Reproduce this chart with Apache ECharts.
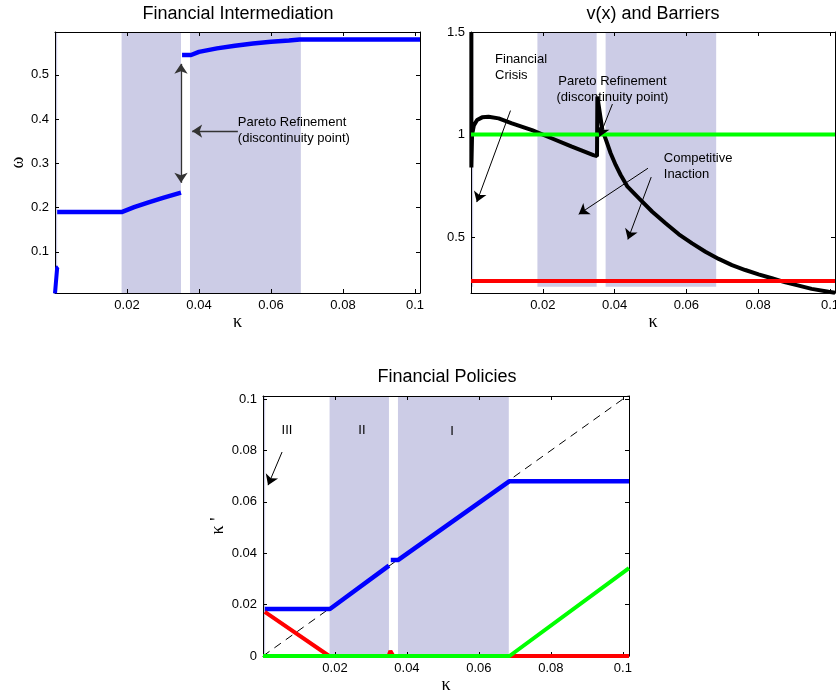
<!DOCTYPE html>
<html><head><meta charset="utf-8">
<script src="https://cdn.jsdelivr.net/npm/echarts@6/dist/echarts.min.js"></script>
<style>html,body{margin:0;padding:0;background:#fff}#c{width:836px;height:698px}</style>
</head><body><div id="c"></div>
<script>
// ---------- tick labels ----------
const kappaTicks = [0.02, 0.04, 0.06, 0.08, 0.1];
const kappaTickLabels = ['0.02', '0.04', '0.06', '0.08', '0.1'];
const omegaTicks = [0.1, 0.2, 0.3, 0.4, 0.5];
const omegaTickLabels = ['0.1', '0.2', '0.3', '0.4', '0.5'];
const vTicks = [0.5, 1, 1.5];
const vTickLabels = ['0.5', '1', '1.5'];
const kpTicks = [0, 0.02, 0.04, 0.06, 0.08, 0.1];
const kpTickLabels = ['0', '0.02', '0.04', '0.06', '0.08', '0.1'];

// ---------- regions (III, II, I) ----------
const regionNames = ['III', 'II', 'I'];
const regionStart = [0, 0.0185, 0.0375];
const regionEnd = [0.0006, 0.035, 0.0683];

// ---------- Financial Intermediation (omega) ----------
const crisisK = [0.0000, 0.0006, 0.0009];
const crisisOmega = [0.006, 0.064, 0.066];
const lowK = [0.0006, 0.0185, 0.022, 0.026, 0.030, 0.035];
const lowOmega = [0.19, 0.19, 0.201, 0.212, 0.222, 0.234];
const highK = [0.0353, 0.0378, 0.040, 0.045, 0.050, 0.055, 0.060, 0.065, 0.068, 0.1014];
const highOmega = [0.545, 0.545, 0.552, 0.560, 0.566, 0.571, 0.575, 0.578, 0.580, 0.580];

// ---------- v(x) and Barriers ----------
const vK = [0.0001, 0.0001, 0.0003, 0.0008, 0.0017, 0.0031, 0.0049, 0.0077, 0.0114, 0.017, 0.0226, 0.0281, 0.0341, 0.0351,
            0.0352, 0.0366, 0.0376, 0.0389, 0.0403, 0.0417, 0.0436, 0.0468, 0.0505, 0.0542, 0.0579, 0.0616, 0.0653,
            0.069, 0.0727, 0.0764, 0.0801, 0.0838, 0.0876, 0.0913, 0.0949, 0.0996, 0.1014];
const vVal = [1.5, 0.84, 1.0, 1.045, 1.071, 1.084, 1.087, 1.079, 1.055, 1.022, 0.981, 0.941, 0.9, 0.895,
              1.185, 1.022, 0.974, 0.909, 0.852, 0.803, 0.746, 0.689, 0.624, 0.568, 0.514, 0.470, 0.429,
              0.394, 0.364, 0.340, 0.319, 0.300, 0.280, 0.264, 0.248, 0.234, 0.229];
const barrierK = [0, 0.1014];
const upperBarrier = [1.0, 1.0];
const lowerBarrier = [0.287, 0.287];

// ---------- Financial Policies ----------
const bluePolK1 = [0.0005, 0.0186, 0.035];
const bluePol1 = [0.0183, 0.0183, 0.0352];
const bluePolK2 = [0.0355, 0.0376, 0.0684, 0.1017];
const bluePol2 = [0.0374, 0.0374, 0.068, 0.068];
const redPolK = [0.0005, 0.0184, 0.0349, 0.0354, 0.0362, 0.1017];
const redPol = [0.0172, 0, 0, 0.002, 0, 0];
const greenPolK = [0, 0.0685, 0.1017];
const greenPol = [0, 0, 0.0342];
const diagK = [0, 0.1017];
const diagVal = [0, 0.1017];

// ---------- layout ----------
const SANS = '"Liberation Sans", Arial, sans-serif';
const SERIF = '"Liberation Serif", "Times New Roman", serif';
const zip = (xs, ys) => xs.map((x, i) => [x, ys[i]]);
const grids = [
  {left: 55, top: 32, width: 365, height: 261},
  {left: 471, top: 32, width: 364, height: 261},
  {left: 263, top: 396, width: 366, height: 260}
];
const xRange = [[0, 0.1014], [0, 0.1014], [0, 0.1017]];
const yRange = [[0.007, 0.597], [0.228, 1.5], [0, 0.1012]];
const yTickSets = [[omegaTicks, omegaTickLabels], [vTicks, vTickLabels], [kpTicks, kpTickLabels]];
const yNames = ['ω', '', 'κ \''];
const yNameGaps = [28, 0, 36];
const shadeY = [[0.007, 0.597], [0.258, 1.5], [0, 0.1012]];

function lookup(ticks, labels) {
  return v => {
    let best = 0;
    ticks.forEach((t, i) => { if (Math.abs(t - v) < Math.abs(ticks[best] - v)) best = i; });
    return labels[best];
  };
}

const xAxis = [], yAxis = [];
grids.forEach((g, i) => {
  [true, false].forEach(bottom => {
    xAxis.push({
      type: 'value', gridIndex: i, position: bottom ? 'bottom' : 'top', z: 3,
      min: xRange[i][0], max: xRange[i][1],
      name: bottom ? 'κ' : '', nameLocation: 'middle', nameGap: 20,
      nameTextStyle: {fontFamily: SERIF, fontSize: 18, color: '#000'},
      axisLine: {show: true, onZero: false, lineStyle: {color: '#000', width: 1}},
      axisTick: {show: true, inside: true, length: 4, customValues: kappaTicks, lineStyle: {color: '#000'}},
      axisLabel: {show: bottom, customValues: kappaTicks, formatter: lookup(kappaTicks, kappaTickLabels),
        fontFamily: SANS, fontSize: 13, color: '#000', margin: 6},
      splitLine: {show: false}
    });
  });
  [true, false].forEach(left => {
    const [tk, tl] = yTickSets[i];
    yAxis.push({
      type: 'value', gridIndex: i, position: left ? 'left' : 'right', z: 3,
      min: yRange[i][0], max: yRange[i][1],
      name: left ? yNames[i] : '', nameLocation: 'middle', nameGap: yNameGaps[i], nameRotate: 90,
      nameTextStyle: {fontFamily: SERIF, fontSize: 18, color: '#000'},
      axisLine: {show: true, onZero: false, lineStyle: {color: '#000', width: 1}},
      axisTick: {show: true, inside: true, length: 4, customValues: tk, lineStyle: {color: '#000'}},
      axisLabel: {show: left, customValues: tk, formatter: lookup(tk, tl),
        fontFamily: SANS, fontSize: 13, color: '#000', margin: 6},
      splitLine: {show: false}
    });
  });
});

function shadeSeries(i) {
  return {
    type: 'line', xAxisIndex: 2 * i, yAxisIndex: 2 * i, data: [], silent: true, z: 1,
    markArea: {
      silent: true, itemStyle: {color: '#CCCCE6', opacity: 1},
      label: {show: false},
      data: regionStart.map((s, r) => [{coord: [s, shadeY[i][0]]}, {coord: [regionEnd[r], shadeY[i][1]]}])
    }
  };
}
function lineSeries(i, data, color, width, extra) {
  return Object.assign({
    type: 'line', xAxisIndex: 2 * i, yAxisIndex: 2 * i, data: data, showSymbol: false, symbol: 'none',
    silent: true, z: 4, lineStyle: {color: color, width: width}, clip: true
  }, extra || {});
}

// ---------- annotation arrows [x1,y1,x2,y2,doubleHead] ----------
const arrows0 = [[0.035, 0.256, 0.035, 0.525, true], [0.0508, 0.373, 0.0381, 0.373, false]];
const arrows1 = [[0.011, 1.117, 0.0016, 0.671, false], [0.0394, 1.149, 0.0358, 0.99, false],
                 [0.0493, 0.836, 0.030, 0.612, false], [0.0502, 0.793, 0.0437, 0.489, false]];
const arrows2 = [[0.0053, 0.0794, 0.0014, 0.0665, false]];
function arrowSeries(i, arrows, color, width) {
  return {
    type: 'line', xAxisIndex: 2 * i, yAxisIndex: 2 * i, data: [], silent: true, z: 6,
    markLine: {
      silent: true, symbol: ['none', 'arrow'], symbolSize: 10, label: {show: false},
      lineStyle: {color: color, width: width, type: 'solid'},
      emphasis: {disabled: true},
      data: arrows.map(a => [{coord: [a[0], a[1]], symbol: a[4] ? 'arrow' : 'none'}, {coord: [a[2], a[3]], symbol: 'arrow'}])
    }
  };
}

const series = [
  shadeSeries(0),
  lineSeries(0, zip(crisisK, crisisOmega), '#0000FF', 4),
  lineSeries(0, zip(lowK, lowOmega), '#0000FF', 4.5),
  lineSeries(0, zip(highK, highOmega), '#0000FF', 4.5),
  arrowSeries(0, arrows0, '#333', 1.3),
  shadeSeries(1),
  lineSeries(1, zip(vK, vVal), '#000000', 4),
  lineSeries(1, zip(barrierK, upperBarrier), '#00FF00', 4),
  lineSeries(1, zip(barrierK, lowerBarrier), '#FF0000', 4),
  arrowSeries(1, arrows1, '#000', 1),
  shadeSeries(2),
  lineSeries(2, zip(diagK, diagVal), '#000000', 1, {lineStyle: {color: '#000', width: 1, type: [8, 6]}}),
  lineSeries(2, zip(bluePolK1, bluePol1), '#0000FF', 4.5),
  lineSeries(2, zip(bluePolK2, bluePol2), '#0000FF', 4.5),
  lineSeries(2, zip(redPolK, redPol), '#FF0000', 4),
  lineSeries(2, zip(greenPolK, greenPol), '#00FF00', 4),
  arrowSeries(2, arrows2, '#000', 1)
];

const chart = echarts.init(document.getElementById('c'), null, {renderer: 'canvas'});
chart.setOption({
  animation: false,
  backgroundColor: '#fff',
  grid: grids.map(g => Object.assign({outerBoundsMode: 'none', containLabel: false}, g)),
  xAxis: xAxis, yAxis: yAxis, series: series
});

// ---------- texts ----------
const titles = ['Financial Intermediation', 'v(x) and Barriers', 'Financial Policies'];
const titlePos = [[238, 14], [653, 14], [447, 377]];
// [grid, x, y, text, align]
const notes = [
  [0, 0.0508, 0.3736, 'Pareto Refinement\n(discontinuity point)', 'left'],
  [1, 0.0067, 1.328, 'Financial\nCrisis', 'left'],
  [1, 0.0394, 1.22, 'Pareto Refinement\n(discontinuity point)', 'center'],
  [1, 0.0537, 0.844, 'Competitive\nInaction', 'left'],
  [2, 0.00667, 0.0879, regionNames[0], 'center'],
  [2, 0.0275, 0.0879, regionNames[1], 'center'],
  [2, 0.0525, 0.0873, regionNames[2], 'center']
];
const graphic = [];
titles.forEach((t, i) => graphic.push({
  type: 'text', x: titlePos[i][0], y: titlePos[i][1], z: 20, silent: true,
  style: {text: t, fill: '#000', font: '18px ' + SANS, align: 'center', verticalAlign: 'middle',
          textAlign: 'center', textVerticalAlign: 'middle'}
}));
notes.forEach(n => {
  const p = chart.convertToPixel({gridIndex: n[0]}, [n[1], n[2]]);
  graphic.push({
    type: 'text', x: p[0], y: p[1], z: 20, silent: true,
    style: {text: n[3], fill: '#000', font: '13px ' + SANS, lineHeight: 16,
            align: n[4], verticalAlign: 'middle', textAlign: n[4], textVerticalAlign: 'middle'}
  });
});
chart.setOption({graphic: graphic});
</script></body></html>
